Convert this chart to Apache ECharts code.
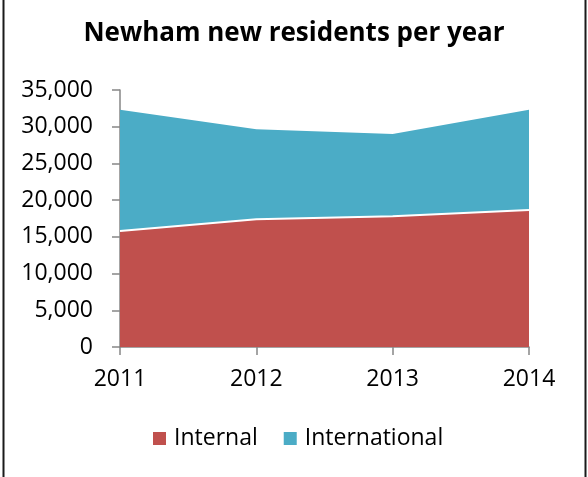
<!DOCTYPE html>
<html>
<head>
<meta charset="utf-8">
<script src="https://cdn.jsdelivr.net/npm/echarts@6/dist/echarts.min.js"></script>
<style>
  html, body { margin: 0; padding: 0; background: #fff; }
  #chart { width: 588px; height: 477px; }
</style>
</head>
<body>
<div id="chart"></div>
<script>
// Newham new residents per year, stacked by origin
const years = ['2011', '2012', '2013', '2014'];
const internal = [15800, 17400, 17800, 18650];
const international = [16500, 12250, 11200, 13650];
const yTicks = { min: 0, max: 35000, interval: 5000 };

const font = '"Open Sans", "DejaVu Sans", sans-serif';
const axisGray = '#868686';

const chart = echarts.init(document.getElementById('chart'), null, { renderer: 'canvas' });

chart.setOption({
  animation: false,
  backgroundColor: '#fff',
  title: {
    text: 'Newham new residents per year',
    left: 'center',
    top: 16,
    textStyle: { fontFamily: font, fontWeight: 'bold', fontSize: 26, color: '#000' }
  },
  legend: {
    bottom: 22,
    left: 148,
    icon: 'rect',
    itemWidth: 13,
    itemHeight: 13,
    itemGap: 26,
    textStyle: { fontFamily: font, fontSize: 23, color: '#000', padding: [0, 0, 0, 3] },
    data: ['Internal', 'International']
  },
  grid: { left: 120, right: 59, top: 90, bottom: 130 },
  xAxis: {
    type: 'category',
    data: years,
    boundaryGap: false,
    axisLine: { lineStyle: { color: axisGray, width: 1.5 } },
    axisTick: { length: 8, lineStyle: { color: axisGray, width: 1.5 } },
    axisLabel: { fontFamily: font, fontSize: 23, color: '#000', margin: 21 }
  },
  yAxis: {
    type: 'value',
    min: yTicks.min,
    max: yTicks.max,
    interval: yTicks.interval,
    axisLine: { show: true, lineStyle: { color: axisGray, width: 1.5 } },
    axisTick: { show: true, length: 8, lineStyle: { color: axisGray, width: 1.5 } },
    splitLine: { show: false },
    axisLabel: {
      fontFamily: font, fontSize: 23, color: '#000', margin: 27,
      formatter: v => v.toLocaleString('en-US')
    }
  },
  series: [
    {
      name: 'Internal',
      type: 'line',
      stack: 'total',
      data: internal,
      symbol: 'none',
      z: 3,
      color: '#C0504D',
      lineStyle: { color: '#fff', width: 2 },
      areaStyle: { color: '#C0504D', opacity: 1 }
    },
    {
      name: 'International',
      type: 'line',
      stack: 'total',
      data: international,
      symbol: 'none',
      z: 2,
      color: '#4BACC6',
      lineStyle: { width: 0 },
      areaStyle: { color: '#4BACC6', opacity: 1 }
    }
  ],
  graphic: [
    { type: 'line', shape: { x1: 3.5, y1: 0, x2: 3.5, y2: 477 }, style: { stroke: '#1a1a1a', lineWidth: 2 } },
    { type: 'line', shape: { x1: 585.5, y1: 0, x2: 585.5, y2: 477 }, style: { stroke: '#1a1a1a', lineWidth: 2 } }
  ]
});
</script>
</body>
</html>
